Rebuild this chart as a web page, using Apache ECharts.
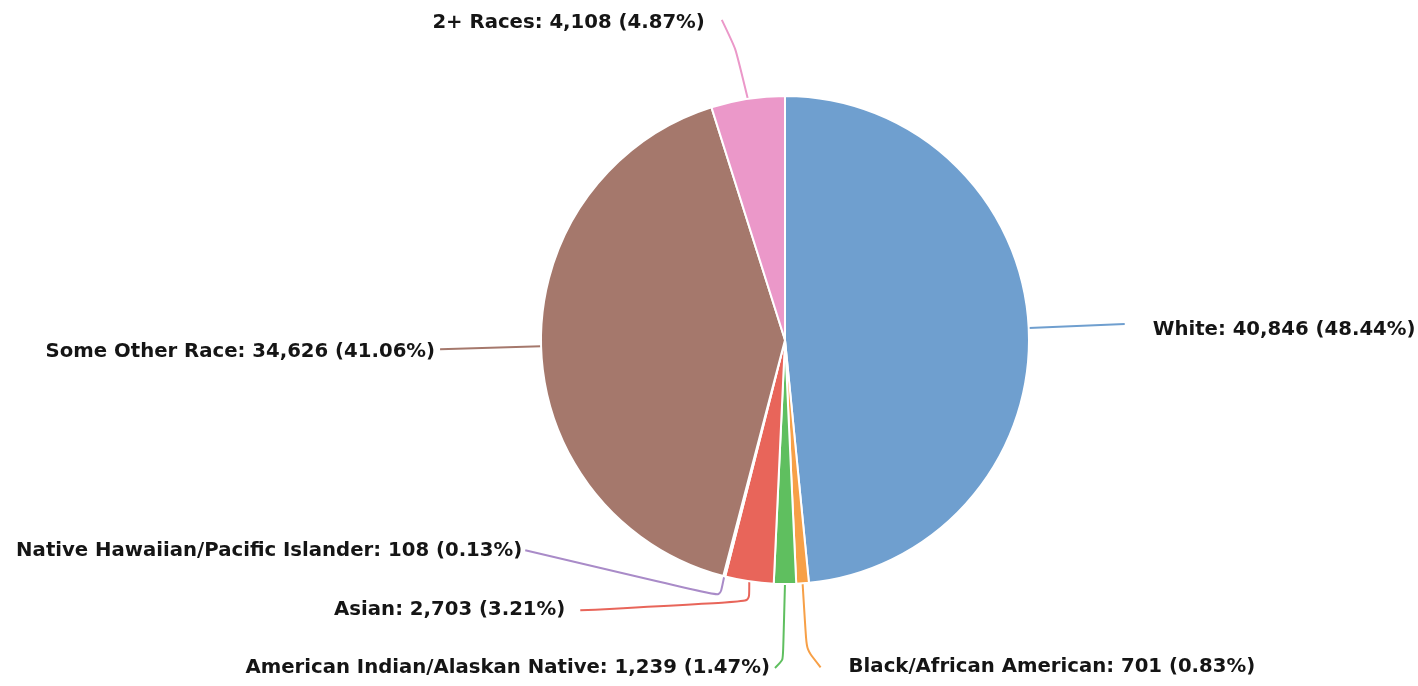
<!DOCTYPE html>
<html>
<head>
<meta charset="utf-8">
<script src="https://cdn.jsdelivr.net/npm/echarts@6/dist/echarts.min.js"></script>
<style>
  html, body { margin: 0; padding: 0; background: #fff; }
  #chart { width: 1418px; height: 686px; }
</style>
</head>
<body>
<div id="chart"></div>
<script>
// race breakdown, clockwise from 12 o'clock
const categories = [
  "White",
  "Black/African American",
  "American Indian/Alaskan Native",
  "Asian",
  "Native Hawaiian/Pacific Islander",
  "Some Other Race",
  "2+ Races"
];
const values = [40846, 701, 1239, 2703, 108, 34626, 4108];
const colors = ["#6f9fcf", "#f7a047", "#5fbf5f", "#e8655a", "#a98bc8", "#a5786c", "#eb98c9"];

// connector shape per slice, offsets from the slice's outer edge point
// bend: optional elbow, end: line end, gap: space to text, dy: text shift, side
const connectors = [
  { end: [96, -4], gap: 28, dy: 6, side: "left" },
  { bend: [4, 66], end: [18, 84], gap: 28, dy: 0, side: "left" },
  { bend: [-2, 76], end: [-10, 84], gap: 5, dy: 0, side: "right" },
  { bend: [0, 20], end: [-169, 29], gap: 15, dy: 0, side: "right" },
  { bend: [-4, 20], end: [-199, -26], gap: 3, dy: 1, side: "right" },
  { end: [-101, 3], gap: 5, dy: 3, side: "right" },
  { bend: [-12, -50], end: [-26, -79], gap: 17, dy: 3, side: "right" }
];

const total = values.reduce((a, b) => a + b, 0);

const chart = echarts.init(document.getElementById("chart"));

const option = {
  animation: false,
  series: [
    {
      type: "pie",
      center: [785, 340],
      radius: 244,
      startAngle: 90,
      clockwise: true,
      avoidLabelOverlap: false,
      itemStyle: { borderColor: "#fff", borderWidth: 2 },
      label: {
        show: true,
        position: "outside",
        color: "#151515",
        fontFamily: "DejaVu Sans",
        fontWeight: "bold",
        fontSize: 19.7,
        formatter: function (p) {
          const pct = (p.value / total * 100).toFixed(2);
          return p.name + ": " + p.value.toLocaleString("en-US") + " (" + pct + "%)";
        }
      },
      labelLine: {
        show: true,
        length: 20,
        length2: 20,
        smooth: 0.2,
        lineStyle: { width: 2 }
      },
      labelLayout: function (params) {
        const c = connectors[params.dataIndex];
        const p0 = params.labelLinePoints[0];
        const pts = [[p0[0], p0[1]]];
        if (c.bend) pts.push([p0[0] + c.bend[0], p0[1] + c.bend[1]]);
        const end = [p0[0] + c.end[0], p0[1] + c.end[1]];
        pts.push(end);
        const dir = c.side === "left" ? 1 : -1;
        return {
          x: end[0] + dir * c.gap,
          y: end[1] + c.dy,
          align: c.side,
          verticalAlign: "middle",
          labelLinePoints: pts
        };
      },
      data: categories.map((name, i) => ({
        name: name,
        value: values[i],
        itemStyle: { color: colors[i] }
      }))
    }
  ]
};

chart.setOption(option);
</script>
</body>
</html>
